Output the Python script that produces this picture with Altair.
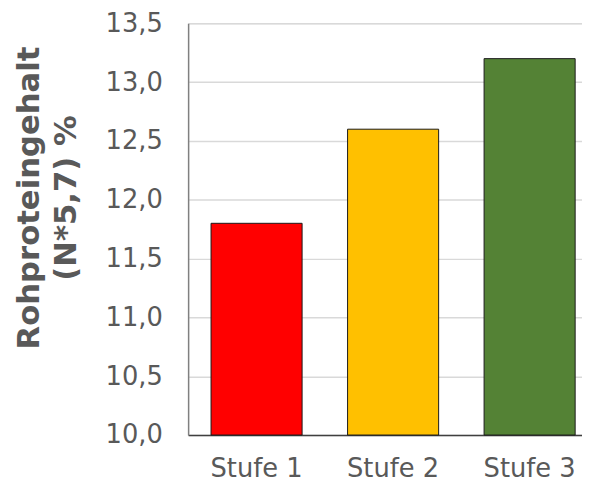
import altair as alt
import pandas as pd

categories = ["Stufe 1", "Stufe 2", "Stufe 3"]
values = [11.8, 12.6, 13.2]
colors = ["#FF0000", "#FFC000", "#548235"]
y_ticks = [10.0, 10.5, 11.0, 11.5, 12.0, 12.5, 13.0, 13.5]

df = pd.DataFrame({"Stufe": categories, "Wert": values, "Farbe": colors})

FONT = "DejaVu Sans"
GREY = "#595959"

chart = alt.Chart(df).mark_bar(stroke="#1a1a1a", strokeWidth=1).encode(
    x=alt.X(
        "Stufe:N",
        sort=categories,
        scale=alt.Scale(paddingInner=0.333, paddingOuter=0.109, align=0.77),
        axis=alt.Axis(
            title=None, labelAngle=0, labelFont=FONT, labelFontSize=26,
            labelColor=GREY, labelPadding=21, ticks=False,
            domainColor="#404040", domainWidth=1.5, grid=False,
        ),
    ),
    y=alt.Y(
        "Wert:Q",
        scale=alt.Scale(domain=[10, 13.5], zero=False, nice=False),
        axis=alt.Axis(
            values=y_ticks,
            labelExpr="replace(format(datum.value, '.1f'), '.', ',')",
            title=["Rohproteingehalt", "(N*5,7) %"],
            titleFont=FONT, titleFontSize=31, titleFontWeight="bold",
            titleColor=GREY, titleAngle=-90, titleX=-160, titleY=176,
            titleAlign="center", titleBaseline="middle", titleLineHeight=37,
            labelFont=FONT, labelFontSize=26, labelColor=GREY,
            labelPadding=26, ticks=False,
            domainColor="#808080", domainWidth=1.5,
            grid=True, gridColor="#D9D9D9", gridWidth=1.5,
        ),
    ),
    y2=alt.datum(10),
    color=alt.Color("Farbe:N", scale=None, legend=None),
).properties(
    width=398,
    height=416,
    autosize=alt.AutoSizeParams(type="none"),
    padding={"left": 182, "top": 13, "right": 0, "bottom": 49},
).configure_view(stroke=None).configure(background="white")

chart.save("out.html", embed_options={"renderer": "svg", "actions": False})
